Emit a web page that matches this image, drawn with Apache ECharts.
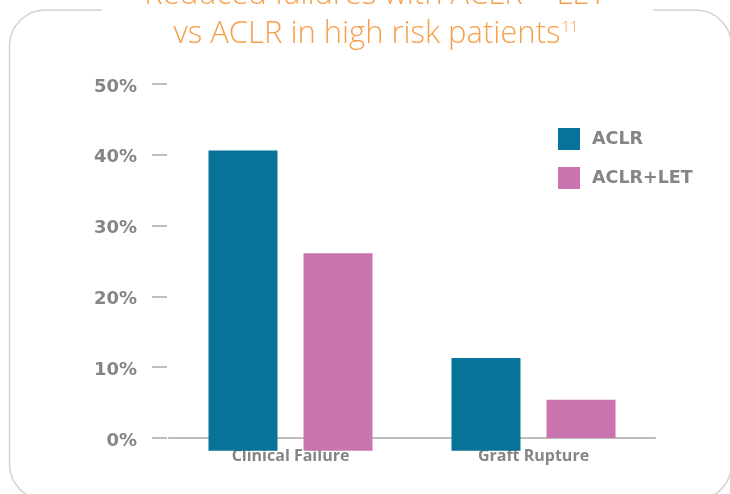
<!DOCTYPE html>
<html>
<head>
<meta charset="utf-8">
<script src="https://cdn.jsdelivr.net/npm/echarts@6/dist/echarts.min.js"></script>
<style>
  html, body { margin: 0; padding: 0; background: #fff; }
  #chart { width: 730px; height: 494px; }
</style>
</head>
<body>
<div id="chart"></div>
<script>
// values (percent)
const categories = ['Clinical Failure', 'Graft Rupture']
const aclr = [40.6, 11.3]
const aclrLet = [26.1, 5.4]
// the bars in the original hang a little below the 0% line
const aclrBelow = [-1.8, -1.8]
const aclrLetBelow = [-1.8, 0]
const yTicks = [0, 10, 20, 30, 40, 50]

const TEAL = '#077399'
const PINK = '#c974ae'
const ORANGE = '#f7a04b'
const GREY = '#858585'
const TITLE_FONT = 'Open Sans'

const chart = echarts.init(document.getElementById('chart'))

const barCommon = {
  type: 'bar',
  barWidth: 69,
  barGap: '37.7%',
  clip: false,
  silent: true
}

const option = {
  backgroundColor: '#fff',
  animation: false,
  graphic: [
    {
      type: 'rect',
      z: 0,
      shape: { x: 9.5, y: 10, width: 722, height: 490, r: 36 },
      style: { fill: 'none', stroke: '#d2d2d2', lineWidth: 1.5 }
    },
    {
      type: 'rect',
      z: 1,
      shape: { x: 102, y: 0, width: 551, height: 22 },
      style: { fill: '#fff' }
    }
  ],
  title: [
    {
      text: 'Reduced failures with ACLR + LET',
      left: 375,
      top: -20,
      textAlign: 'center',
      padding: 0,
      textStyle: { color: ORANGE, fontFamily: TITLE_FONT, fontWeight: 300, fontSize: 31, lineHeight: 31 }
    },
    {
      text: '{m|vs ACLR in high risk patients}{s|11}',
      left: 376,
      top: 16,
      textAlign: 'center',
      padding: 0,
      textStyle: {
        rich: {
          m: { color: ORANGE, fontFamily: TITLE_FONT, fontWeight: 300, fontSize: 31, lineHeight: 34, verticalAlign: 'bottom' },
          s: { color: ORANGE, fontFamily: TITLE_FONT, fontWeight: 300, fontSize: 15, lineHeight: 15, verticalAlign: 'bottom', padding: [0, 0, 15, 1] }
        }
      }
    }
  ],
  legend: {
    data: ['ACLR', 'ACLR+LET'],
    orient: 'vertical',
    left: 558,
    top: 128,
    padding: 0,
    itemWidth: 22,
    itemHeight: 22,
    itemGap: 17,
    icon: 'rect',
    selectedMode: false,
    textStyle: { color: GREY, fontFamily: 'DejaVu Sans', fontWeight: 'bold', fontSize: 17.5, padding: [0, 0, 0, 7] }
  },
  grid: { left: 169, right: 75, top: 84, bottom: 56 },
  xAxis: {
    type: 'category',
    data: categories,
    axisLine: { lineStyle: { color: '#bdbdbd', width: 2 } },
    axisTick: { show: false },
    axisLabel: { color: GREY, fontFamily: 'Open Sans', fontWeight: 'bold', fontSize: 16, margin: 10 }
  },
  yAxis: {
    type: 'value',
    min: yTicks[0],
    max: yTicks[yTicks.length - 1],
    interval: 10,
    offset: 2,
    axisLine: { show: false },
    axisTick: { show: true, length: 15, lineStyle: { color: '#aaa', width: 1.5 } },
    splitLine: { show: false },
    axisLabel: {
      formatter: '{value}%',
      color: GREY,
      fontFamily: 'DejaVu Sans',
      fontWeight: 'bold',
      fontSize: 18,
      margin: 30,
      verticalAlign: 'top',
      lineHeight: 6
    }
  },
  series: [
    { ...barCommon, name: 'ACLR', stack: 'aclr', data: aclr, itemStyle: { color: TEAL } },
    { ...barCommon, name: 'ACLR below', stack: 'aclr', data: aclrBelow, itemStyle: { color: TEAL } },
    { ...barCommon, name: 'ACLR+LET', stack: 'let', data: aclrLet, itemStyle: { color: PINK } },
    { ...barCommon, name: 'ACLR+LET below', stack: 'let', data: aclrLetBelow, itemStyle: { color: PINK } }
  ]
}

chart.setOption(option)
</script>
</body>
</html>
